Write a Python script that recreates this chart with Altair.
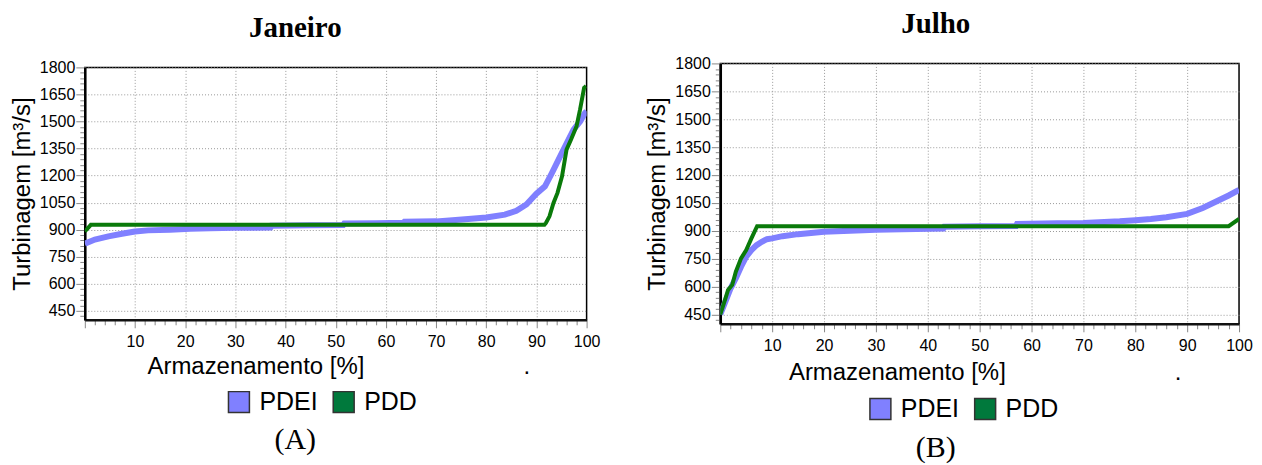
import altair as alt
import pandas as pd

# ---------------- data ----------------
SERIES = ["PDEI", "PDD"]
LEGEND_COLORS = ["#8080ff", "#00793c"]
LINE_PDEI = "#8080ff"
LINE_PDD = "#0a7a0a"

# Janeiro
jan_pdei_x = [0, 2, 4.7, 7.4, 10, 12.6, 17, 21, 25, 30, 37, 37.2, 45, 51.5, 51.7, 58,
              63.5, 63.7, 70, 72, 76.4, 80, 83.7, 86, 88, 90, 91.7, 93, 94.7, 96.4,
              97.4, 98.7, 99.7, 100]
jan_pdei_y = [822, 845, 863, 877, 890, 896, 900, 905, 908, 910, 912, 922, 924, 926, 934,
              936, 938, 944, 946, 950, 959, 967, 983, 1005, 1040, 1100, 1140, 1210, 1305,
              1400, 1455, 1500, 1548, 1557]
jan_pdd_x = [0, 1.2, 91.6, 91.9, 92.6, 93.4, 94.2, 95.1, 96.0, 96.9, 98.0, 98.7, 99.5, 99.9]
jan_pdd_y = [890, 927, 927, 937, 974, 1048, 1104, 1196, 1344, 1400, 1474, 1567, 1687, 1696]

# Julho
jul_pdei_x = [0, 1, 2, 3, 4, 5, 6, 7, 8, 9, 10, 12, 15, 20, 25, 30, 35, 43, 43.2, 50,
              57, 57.2, 65, 70, 77, 80, 83, 86, 90, 93, 96, 98, 100]
jul_pdei_y = [450, 520, 591, 645, 707, 761, 796, 823, 841, 855, 859, 871, 882, 895, 900,
              905, 908, 912, 922, 924, 926, 937, 940, 942, 951, 957, 964, 973, 991, 1023,
              1063, 1090, 1120]
jul_pdd_x = [0, 1, 1.5, 2.3, 3, 4, 5, 6, 7.1, 98, 100]
jul_pdd_y = [450, 537, 582, 609, 680, 752, 796, 859, 925, 925, 964]

X_DOMAIN = [0, 100]
Y_DOMAIN = [400, 1800]
x_tick_values = list(range(0, 101, 2))
y_tick_values = list(range(420, 1801, 30))

FONT = "Liberation Sans"
SERIF = "Liberation Serif"


def frame(x, y, serie):
    return pd.DataFrame({"arm": x, "turb": y, "serie": serie,
                         "ordem": list(range(len(x)))})


def make_axes(y_title_x, y_title_y, x_title_x, x_title_y):
    x_axis = alt.Axis(
        values=x_tick_values, format="d",
        labelExpr="datum.value % 10 === 0 && datum.value > 0 ? datum.label : ''",
        tickSize={"condition": {"test": "datum.value % 10 === 0", "value": 8}, "value": 5},
        gridOpacity={"condition": {"test": "datum.value % 10 === 0 && datum.value > 0 && datum.value < 100",
                                   "value": 1}, "value": 0},
        grid=True, gridColor="#999999", gridDash=[1, 2], gridWidth=1,
        domainColor="#111111", domainWidth=2.5,
        tickColor="#888888", tickWidth=1,
        labelFont=FONT, labelFontSize=16, labelColor="black", labelPadding=6,
        labelOverlap=False, labelFlush=False,
        title="Armazenamento [%]", titleFont=FONT, titleFontSize=24,
        titleFontWeight="normal", titleColor="black",
        titleX=x_title_x, titleY=x_title_y, titleAlign="center",
        titleBaseline="alphabetic",
    )
    y_axis = alt.Axis(
        values=y_tick_values, format="d",
        labelExpr="datum.value % 150 === 0 ? datum.label : ''",
        tickSize={"condition": {"test": "datum.value % 150 === 0", "value": 9}, "value": 5},
        gridOpacity={"condition": {"test": "datum.value % 150 === 0", "value": 1}, "value": 0},
        grid=True, gridColor="#999999", gridDash=[1, 2], gridWidth=1,
        domainColor="black", domainWidth=2.5,
        tickColor="#888888", tickWidth=1,
        labelFont=FONT, labelFontSize=16, labelColor="black", labelPadding=1,
        labelOverlap=False,
        title="Turbinagem [m³/s]", titleFont=FONT, titleFontSize=24,
        titleFontWeight="normal", titleColor="black",
        titleX=y_title_x, titleY=y_title_y, titleAngle=270, titleAlign="center",
        titleBaseline="alphabetic",
    )
    return x_axis, y_axis


def text_layer(txt, x, y, font, size, weight="normal"):
    return alt.Chart(pd.DataFrame({"t": [txt]})).mark_text(
        font=font, fontSize=size, fontWeight=weight, baseline="alphabetic",
        align="center", color="black"
    ).encode(x=alt.value(x), y=alt.value(y), text="t:N")


def panel(pdei_x, pdei_y, pdd_x, pdd_y, title, title_x, title_y, w, h,
          legend_x, legend_y, y_title_x, x_title_x, x_title_y,
          dot_x, dot_y, label, label_x, label_y):
    x_axis, y_axis = make_axes(y_title_x, h / 2, x_title_x, x_title_y)
    xs = alt.Scale(domain=X_DOMAIN, nice=False, zero=False)
    ys = alt.Scale(domain=Y_DOMAIN, nice=False, zero=False)

    pdei = alt.Chart(frame(pdei_x, pdei_y, "PDEI")).mark_line(
        color=LINE_PDEI, strokeWidth=6, clip=True
    ).encode(
        x=alt.X("arm:Q", scale=xs, axis=x_axis),
        y=alt.Y("turb:Q", scale=ys, axis=y_axis),
        order="ordem:Q",
    )
    pdd = alt.Chart(frame(pdd_x, pdd_y, "PDD")).mark_line(
        color=LINE_PDD, strokeWidth=4, clip=True
    ).encode(
        x=alt.X("arm:Q", scale=xs, axis=x_axis),
        y=alt.Y("turb:Q", scale=ys, axis=y_axis),
        order="ordem:Q",
    )
    legend = alt.Chart(pd.DataFrame({"serie": SERIES})).mark_square(opacity=0).encode(
        color=alt.Color(
            "serie:N",
            scale=alt.Scale(domain=SERIES, range=LEGEND_COLORS),
            legend=alt.Legend(
                orient="none", legendX=legend_x, legendY=legend_y,
                direction="horizontal", title=None, padding=0,
                symbolType="square", symbolSize=441, symbolOpacity=1,
                symbolStrokeColor="#333333", symbolStrokeWidth=1.5,
                labelFont=FONT, labelFontSize=25, labelColor="black",
                labelOffset=8, columnPadding=12,
            ),
        )
    )
    ttl = text_layer(title, title_x, title_y, SERIF, 29, "bold")
    dot = text_layer(".", dot_x, dot_y, FONT, 24)
    lab = text_layer(label, label_x, label_y, SERIF, 30)

    return alt.layer(pdei, pdd, legend, ttl, dot, lab).properties(
        width=w, height=h,
        view=alt.ViewBackground(stroke="black", strokeWidth=1.5, strokeOpacity=1),
    )


chart_a = panel(jan_pdei_x, jan_pdei_y, jan_pdd_x, jan_pdd_y, "Janeiro",
                title_x=211, title_y=-30, w=503, h=253,
                legend_x=142, legend_y=323, y_title_x=-55,
                x_title_x=171, x_title_y=54, dot_x=443, dot_y=307,
                label="(A)", label_x=211, label_y=383)
chart_b = panel(jul_pdei_x, jul_pdei_y, jul_pdd_x, jul_pdd_y, "Julho",
                title_x=216, title_y=-30, w=520, h=261,
                legend_x=148, legend_y=334, y_title_x=-56,
                x_title_x=177, x_title_y=56, dot_x=459, dot_y=317,
                label="(B)", label_x=216, label_y=395)

chart = alt.hconcat(chart_a, chart_b, spacing=134, bounds="flush", center=True).resolve_legend(
    color="independent"
).configure_view(strokeOpacity=0).properties(
    padding={"left": 2, "top": 1, "right": 0, "bottom": 0},
    background="white",
)

chart.save("out.html", embed_options={"renderer": "svg", "actions": False})
